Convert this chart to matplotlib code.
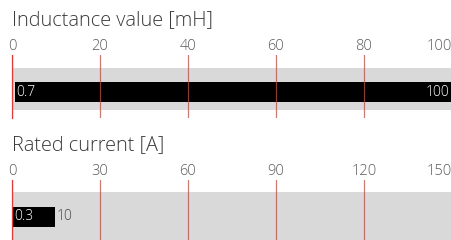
import matplotlib.pyplot as plt
from matplotlib import transforms
import numpy as np

plt.rcParams['font.family'] = ['Open Sans', 'DejaVu Sans']

# two range panels: min..max value drawn as a black bar on a grey track
titles = ["Inductance value [mH]", "Rated current [A]"]
axis_max = [100, 150]
tick_step = [20, 30]
range_min = [0.7, 0.3]
range_max = [100, 10]
min_labels = ["0.7", "0.3"]
max_labels = ["100", "10"]

W, H = 452, 240
LEFT = 12
fig = plt.figure(figsize=(W / 100, H / 100), dpi=100)

# panel geometry in pixels from top: (axes top, axes bottom, track top, track bottom, bar top, bar bottom)
geo = [(55, 118, 68, 110, 82, 102),
       (180, 240, 192, 240, 207, 227)]
title_base = [25, 150]

grid_col = '#b8503f'
for i in range(2):
    at, ab, tt, tb, bt, bb = geo[i]
    ax = fig.add_axes([LEFT / W, 1 - ab / H, (W - LEFT) / W, (ab - at) / H])
    ax.set_xlim(0, axis_max[i])
    ax.set_ylim(ab - at, 0)
    px = axis_max[i] / (W - LEFT)

    # grey track
    ax.barh((tt + tb) / 2 - at, axis_max[i], height=tb - tt, left=0,
            color='#d9d9d9', zorder=1)
    # black range bar, at least wide enough for its label
    width = max(range_max[i] - range_min[i], 42 * px)
    ax.barh((bt + bb) / 2 - at, width, height=bb - bt, left=range_min[i],
            color='black', zorder=1.5)

    ticks = np.arange(0, axis_max[i] + 1, tick_step[i])
    ax.set_xticks(ticks)
    ax.set_xticklabels([str(t) for t in ticks])
    ax.xaxis.tick_top()
    ax.tick_params(axis='x', length=0, pad=1, labelsize=10.5, labelcolor='#5a5a5a')
    for lab in ax.get_xticklabels():
        lab.set_fontweight('light')
    ax.set_yticks([])
    for s in ax.spines.values():
        s.set_visible(False)
    ax.set_axisbelow(False)
    ax.grid(axis='x', color=grid_col, alpha=0.75, linewidth=0.9)
    ax.axvline(0, color='#e03a3a', linewidth=0.9, zorder=4, clip_on=False)
    lab = ax.get_xticklabels()[-1]
    lab.set_transform(lab.get_transform() + transforms.ScaledTranslation(-13 / 100, 0, fig.dpi_scale_trans))

    yc = (bt + bb) / 2 - at
    ax.text(range_min[i] + 1 * px, yc, min_labels[i], color='white', fontsize=10,
            va='center', ha='left', zorder=5, fontweight='light')
    if range_max[i] - range_min[i] > 60 * px:
        ax.text(range_max[i] - 3 * px, yc, max_labels[i], color='white', fontsize=10,
                va='center', ha='right', zorder=5, fontweight='light')
    else:
        ax.text(range_min[i] + width + 2 * px, yc, max_labels[i], color='#444444',
                fontsize=10, va='center', ha='left', zorder=5, fontweight='light')

    fig.text(LEFT / W, 1 - title_base[i] / H, titles[i], fontsize=14.3,
             color='#3a3a3a', va='baseline', ha='left', fontweight='light')

fig.savefig('out.png', dpi=100)
